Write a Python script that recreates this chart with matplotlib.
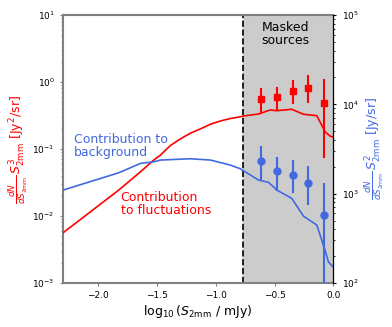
import numpy as np
import matplotlib
matplotlib.use("Agg")
import matplotlib.pyplot as plt

# Red curve (left axis): contribution to fluctuations
red_x = [-2.30, -1.825, -1.64, -1.527, -1.47, -1.385, -1.30, -1.216, -1.13, -1.046, -0.96,
         -0.876, -0.79, -0.763, -0.636, -0.537, -0.48, -0.353, -0.254, -0.14, -0.07, -0.027, 0.0]
red_y = [0.0056, 0.0244, 0.0458, 0.0686, 0.0813, 0.113, 0.142, 0.172, 0.200, 0.234, 0.262,
         0.285, 0.303, 0.311, 0.333, 0.382, 0.373, 0.392, 0.330, 0.314, 0.181, 0.156, 0.150]

# Blue curve (right axis): contribution to background
blue_x = [-2.30, -1.825, -1.64, -1.527, -1.47, -1.216, -1.046, -0.876, -0.791,
          -0.636, -0.551, -0.48, -0.353, -0.254, -0.14, -0.07, -0.042, 0.0]
blue_y = [1096, 1714, 2183, 2275, 2378, 2460, 2378, 2090, 1900,
          1419, 1339, 1097, 885, 561, 445, 233, 173, 150]

# Measured points in masked region
pts_x = [-0.616, -0.48, -0.344, -0.214, -0.076]
red_pts = [0.557, 0.592, 0.734, 0.813, 0.491]
red_hi = [0.822, 0.851, 1.072, 1.259, 1.096]
red_lo = [0.341, 0.373, 0.465, 0.486, 0.0726]
blue_pts = [2334, 1791, 1629, 1325, 575]
blue_hi = [3436, 2588, 2378, 2037, 1303]
blue_lo = [1419, 1077, 1023, 745, 50]

mask_cut = -0.765

RED = "#ff0000"
BLUE = "#4169e1"

fig = plt.figure(figsize=(3.92, 3.27), dpi=100)
ax = fig.add_axes([0.1607, 0.1346, 0.6895, 0.8195])
ax2 = ax.twinx()

ax.axvspan(mask_cut, 0.0, color="0.8", zorder=0)
ax.axvline(mask_cut, color="black", ls="--", lw=1.2, zorder=1)

ax.plot(red_x, red_y, color=RED, lw=1.2, zorder=3)
ax.errorbar(pts_x, red_pts,
            yerr=[np.array(red_pts) - np.array(red_lo), np.array(red_hi) - np.array(red_pts)],
            fmt="s", color=RED, ms=5, lw=1.5, capsize=0, zorder=4)

ax2.plot(blue_x, blue_y, color=BLUE, lw=1.2, zorder=3)
ax2.errorbar(pts_x, blue_pts,
             yerr=[np.array(blue_pts) - np.array(blue_lo), np.array(blue_hi) - np.array(blue_pts)],
             fmt="o", color=BLUE, ms=5, lw=1.5, capsize=0, zorder=4)

ax.set_yscale("log")
ax2.set_yscale("log")
ax.set_xlim(-2.3, 0.0)
ax.set_ylim(1e-3, 1e1)
ax2.set_ylim(1e2, 1e5)
ax.set_xticks([-2.0, -1.5, -1.0, -0.5, 0.0])

ax.tick_params(axis="both", which="both", labelsize=6.5, color="0.5", length=2.5)
ax.tick_params(axis="y", which="minor", length=1.5)
ax2.tick_params(axis="y", which="both", labelsize=6.5, length=2.5)
ax2.tick_params(axis="y", which="minor", length=1.5)

for s in ["left", "top", "bottom"]:
    ax.spines[s].set_color("0.5")
    ax.spines[s].set_linewidth(1.5)
ax.spines["right"].set_visible(False)
for s in ["left", "top", "bottom"]:
    ax2.spines[s].set_visible(False)
ax2.spines["right"].set_color("black")
ax2.spines["right"].set_linewidth(0.9)

ax.set_xlabel(r"$\log_{10}(S_{\rm 2mm}$ / mJy$)$", fontsize=9, labelpad=2)
ax.set_ylabel(r"$\frac{dN}{dS_{\rm 2mm}}\,S^3_{\rm 2mm}$ [Jy$^2$/sr]", color=RED, fontsize=9, labelpad=2)
ax2.set_ylabel(r"$\frac{dN}{dS_{\rm 2mm}}\,S^2_{\rm 2mm}$ [Jy/sr]", color=BLUE, fontsize=9, labelpad=3)

ax.text(-0.41, 5.2, "Masked\nsources", ha="center", va="center", fontsize=9, linespacing=1.05)
ax.text(-2.209, 0.111, "Contribution to\nbackground", ha="left", va="center", fontsize=9,
        color=BLUE, linespacing=1.0)
ax.text(-1.81, 0.0151, "Contribution\nto fluctuations", ha="left", va="center", fontsize=9,
        color=RED, linespacing=1.0)

ax.set_zorder(ax2.get_zorder() - 1)
ax.patch.set_visible(True)
ax2.patch.set_visible(False)

fig.savefig("out.png", dpi=100)
